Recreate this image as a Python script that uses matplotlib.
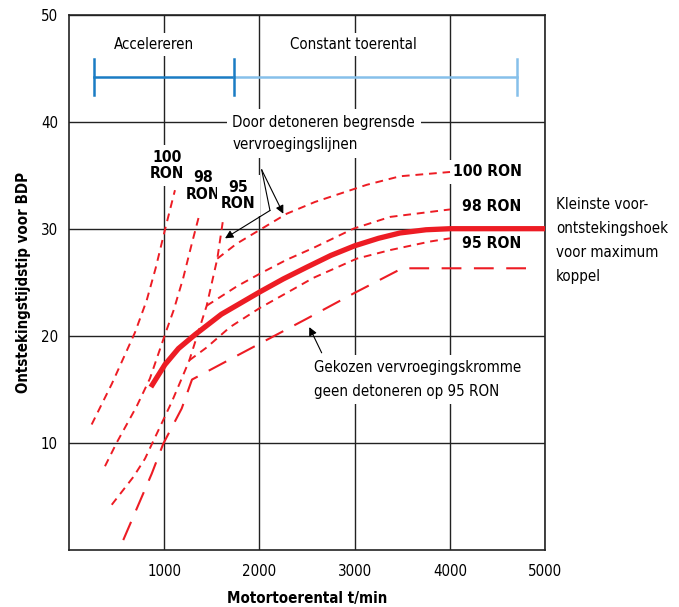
import matplotlib.pyplot as plt
from matplotlib import font_manager

plt.rcParams['font.family'] = ['DejaVu Sans']

# use the condensed face when it is there, else a smaller normal face
cond_path = font_manager.findfont(font_manager.FontProperties(family='DejaVu Sans', stretch='condensed'))
if 'Condensed' in cond_path:
    plt.rcParams['font.stretch'] = 'condensed'
    fs = 10.8
else:
    fs = 9.7

# ---- data (rpm, degrees before TDC) ----
# smallest advance for max torque (thick solid line)
mbt_rpm = [860, 1008, 1150, 1324, 1600, 2006, 2250, 2497, 2750, 3000, 3250, 3477, 3750, 4002, 5000]
mbt_deg = [15.2, 17.3, 18.8, 20.1, 22.0, 24.1, 25.3, 26.4, 27.5, 28.4, 29.1, 29.6, 29.9, 30.0, 30.0]

# knock limited lines, steep part (accelerating)
s100_rpm = [238, 450, 693, 816, 910, 1008, 1113]
s100_deg = [11.7, 15.5, 20.3, 23.3, 26.3, 29.9, 33.6]
s98_rpm = [378, 501, 711, 850, 1008, 1100, 1200, 1290, 1369]
s98_deg = [7.8, 10.0, 13.4, 16.0, 20.1, 22.4, 25.4, 28.6, 31.3]
s95_rpm = [449, 676, 798, 1079, 1184, 1264, 1446, 1558, 1621]
s95_deg = [4.2, 6.8, 8.5, 13.8, 16.0, 17.7, 22.8, 27.2, 31.0]

# knock limited lines, flat part (constant speed)
f100_rpm = [1558, 1761, 2006, 2287, 2584, 3127, 3477, 4002]
f100_deg = [27.2, 28.6, 29.9, 31.4, 32.5, 34.1, 34.9, 35.3]
f98_rpm = [1446, 1586, 1761, 2006, 2287, 2566, 2987, 3372, 4002]
f98_deg = [22.8, 23.6, 24.6, 25.8, 27.1, 28.2, 30.0, 31.1, 31.8]
f95_rpm = [1264, 1446, 1691, 2006, 2287, 2566, 3022, 3372, 3792, 4002]
f95_deg = [17.7, 18.9, 20.8, 22.6, 24.0, 25.4, 27.2, 28.0, 28.8, 29.1]

# chosen advance curve, no knock on 95 RON
chosen_rpm = [570, 869, 990, 1184, 1292, 1800, 2500, 3000, 3500, 4920]
chosen_deg = [0.9, 7.1, 9.9, 13.2, 15.9, 18.3, 21.6, 24.0, 26.3, 26.3]

# phases bar
accel_range = [266, 1733]
const_range = [1733, 4709]
bar_level = 44.2

x_ticks = [1000, 2000, 3000, 4000, 5000]
y_ticks = [10, 20, 30, 40, 50]

red = '#ed1c24'
dark_blue = '#1a7cc4'
light_blue = '#86c0ea'

fig = plt.figure(figsize=(6.79, 6.07), dpi=100)
ax = fig.add_axes([0.1016, 0.0944, 0.7011, 0.8814])
ax.set_xlim(0, 5000)
ax.set_ylim(0, 50)
ax.set_xticks(x_ticks)
ax.set_yticks(y_ticks)
ax.tick_params(axis='x', length=0, labelsize=fs, pad=10)
ax.tick_params(axis='y', length=0, labelsize=fs, pad=8)
ax.grid(True, color='#222222', lw=1.0, zorder=0)
for s in ax.spines.values():
    s.set_linewidth(1.2)
    s.set_color('#222222')

ax.set_xlabel('Motortoerental t/min', fontsize=fs, fontweight='bold', labelpad=9)
ax.set_ylabel('Ontstekingstijdstip voor BDP', fontsize=fs, fontweight='bold', labelpad=7)

# curves
dash = (0, (4, 3))
for xs, ys in [(s100_rpm, s100_deg), (s98_rpm, s98_deg), (s95_rpm, s95_deg),
               (f100_rpm, f100_deg), (f98_rpm, f98_deg), (f95_rpm, f95_deg)]:
    ax.plot(xs, ys, color=red, lw=1.4, ls=dash, zorder=4)
ax.plot(chosen_rpm, chosen_deg, color=red, lw=1.5, ls=(0, (9.5, 6)), zorder=4)
ax.plot(mbt_rpm, mbt_deg, color=red, lw=3.8, solid_capstyle='butt', solid_joinstyle='round', zorder=5)

# phase bar
ax.plot(accel_range, [bar_level] * 2, color=dark_blue, lw=1.8, zorder=4)
ax.plot(const_range, [bar_level] * 2, color=light_blue, lw=1.8, zorder=4)
ax.plot([accel_range[0]] * 2, [bar_level - 1.7, bar_level + 1.7], color=dark_blue, lw=1.8, zorder=4)
ax.plot([accel_range[1]] * 2, [bar_level - 1.7, bar_level + 1.7], color=dark_blue, lw=1.8, zorder=4)
ax.plot([const_range[1]] * 2, [bar_level - 1.7, bar_level + 1.7], color=light_blue, lw=1.8, zorder=4)

box = dict(facecolor='white', edgecolor='none', pad=3)
ax.text(896, 47.2, 'Accelereren', ha='center', va='center', fontsize=fs, bbox=box, zorder=3)
ax.text(2987, 47.2, 'Constant toerental', ha='center', va='center', fontsize=fs, bbox=box, zorder=3)

ax.text(1715, 38.9, 'Door detoneren begrensde\nvervroegingslijnen', ha='left', va='center',
        fontsize=fs, linespacing=1.65, bbox=dict(facecolor='white', edgecolor='none', pad=4), zorder=3)

# left RON labels
for x, y, s in [(1033, 35.9, '100\nRON'), (1411, 34.0, '98\nRON'), (1779, 33.1, '95\nRON')]:
    ax.text(x, y, s, ha='center', va='center', fontsize=fs + 0.5, fontweight='bold',
            linespacing=1.15, bbox=box, zorder=3)

# right RON labels
for y, s in [(35.3, '100 RON'), (32.1, '98 RON'), (28.6, '95 RON')]:
    ax.text(4755, y, s, ha='right', va='center', fontsize=fs + 0.5, fontweight='bold', bbox=box, zorder=3)

ax.text(2574, 15.9, 'Gekozen vervroegingskromme\ngeen detoneren op 95 RON', ha='left', va='center',
        fontsize=fs, linespacing=1.7, bbox=dict(facecolor='white', edgecolor='none', pad=4), zorder=3)

ax.text(5115, 28.9, 'Kleinste voor-\nontstekingshoek\nvoor maximum\nkoppel', ha='left', va='center',
        fontsize=fs, linespacing=1.75, clip_on=False)

# arrows
arr = dict(arrowstyle='-|>', color='black', lw=0.8, shrinkA=0, shrinkB=0, mutation_scale=12)
ax.annotate('', xy=(2251, 31.4), xytext=(2024, 35.5), arrowprops=arr, zorder=6)
ax.plot([2024, 2111], [35.5, 31.7], color='black', lw=0.8, zorder=6)
ax.annotate('', xy=(1639, 29.1), xytext=(2111, 31.7), arrowprops=arr, zorder=6)
ax.annotate('', xy=(2524, 20.8), xytext=(2654, 18.4), arrowprops=arr, zorder=6)

fig.savefig('out.png', dpi=100)
